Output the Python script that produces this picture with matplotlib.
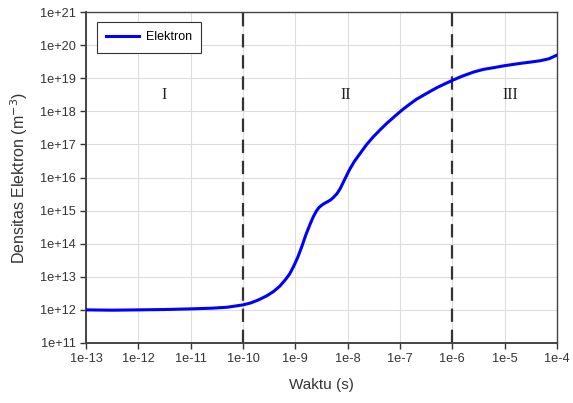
import matplotlib
matplotlib.use("Agg")
import matplotlib.pyplot as plt
import numpy as np
from matplotlib.ticker import FixedLocator, NullLocator

# data: log10(time [s]) and log10(electron density [m^-3])
log_t = [-13.0, -12.5, -12.0, -11.5, -11.0, -10.6, -10.3, -10.0, -9.85, -9.705, -9.55, -9.42,
         -9.3, -9.195, -9.11, -9.036, -8.95, -8.876, -8.8, -8.72, -8.654, -8.60, -8.55,
         -8.49, -8.43, -8.37, -8.32, -8.27, -8.20, -8.14, -8.06, -7.97, -7.87, -7.76,
         -7.64, -7.51, -7.38, -7.25, -7.10, -6.96, -6.82, -6.68, -6.46, -6.29, -6.13,
         -5.98, -5.8, -5.59, -5.4, -5.21, -5.0, -4.70, -4.5, -4.32, -4.15, -4.0]
log_n = [12.0, 11.99, 12.0, 12.01, 12.03, 12.05, 12.08, 12.15, 12.21, 12.30, 12.42, 12.55,
         12.71, 12.90, 13.08, 13.30, 13.60, 13.91, 14.26, 14.58, 14.82, 14.98, 15.09,
         15.17, 15.23, 15.28, 15.33, 15.40, 15.52, 15.67, 15.93, 16.22, 16.49, 16.73,
         16.99, 17.23, 17.44, 17.64, 17.85, 18.04, 18.21, 18.37, 18.57, 18.72, 18.84,
         18.95, 19.07, 19.19, 19.27, 19.32, 19.38, 19.45, 19.49, 19.53, 19.59, 19.70]

x_ticks = [1e-13, 1e-12, 1e-11, 1e-10, 1e-9, 1e-8, 1e-7, 1e-6, 1e-5, 1e-4]
x_tick_labels = ["1e-13", "1e-12", "1e-11", "1e-10", "1e-9", "1e-8", "1e-7", "1e-6", "1e-5", "1e-4"]
y_ticks = [1e11, 1e12, 1e13, 1e14, 1e15, 1e16, 1e17, 1e18, 1e19, 1e20, 1e21]
y_tick_labels = ["1e+11", "1e+12", "1e+13", "1e+14", "1e+15", "1e+16", "1e+17", "1e+18", "1e+19", "1e+20", "1e+21"]
phase_bounds = [1e-10, 1e-6]
phase_labels = ["I", "II", "III"]
phase_label_x = [10**-11.5, 10**-8.03, 10**-4.9]
phase_label_y = 10**18.5

plt.rcParams['font.family'] = ['Liberation Sans', 'DejaVu Sans']

fig = plt.figure(figsize=(5.73, 4.03), dpi=100)
ax = fig.add_axes([0.150, 0.149, 0.822, 0.821])

t = 10 ** np.array(log_t)
n = 10 ** np.array(log_n)
ax.plot(t, n, color='#0000ff', lw=2.2, label='Elektron', zorder=3,
        solid_joinstyle='round')

for b in phase_bounds:
    ax.axvline(b, color='#333333', lw=1.6, ls=(0, (6, 3.5)), zorder=2)

for lab, xx in zip(phase_labels, phase_label_x):
    ax.text(xx, phase_label_y, lab, family=['Liberation Serif', 'DejaVu Serif'],
            fontsize=11.5, ha='center', va='center', color='#222222')

ax.set_xscale('log')
ax.set_yscale('log')
ax.set_xlim(1e-13, 1e-4)
ax.set_ylim(1e11, 1e21)
ax.xaxis.set_major_locator(FixedLocator(x_ticks))
ax.yaxis.set_major_locator(FixedLocator(y_ticks))
ax.xaxis.set_minor_locator(NullLocator())
ax.yaxis.set_minor_locator(NullLocator())
ax.set_xticklabels(x_tick_labels)
ax.set_yticklabels(y_tick_labels)
ax.tick_params(axis='both', labelsize=9.2, colors='#333333', length=4, width=1, direction='out')
ax.grid(True, color='#dddddd', lw=0.8, zorder=0)
ax.set_axisbelow(True)
for s in ax.spines.values():
    s.set_color('#444444')
    s.set_linewidth(1.0)
ax.spines['left'].set_linewidth(1.4)
ax.spines['bottom'].set_linewidth(1.4)

ax.set_xlabel('Waktu (s)', fontsize=11, color='#333333', labelpad=9)
ax.set_ylabel('Densitas Elektron (m$^{-3}$)', fontsize=11.5, color='#333333', labelpad=7)

leg = ax.legend(loc='upper left', bbox_to_anchor=(0.023, 0.970), fontsize=9,
                fancybox=False, edgecolor='#333333', framealpha=1,
                borderpad=0.75, handlelength=2.6, handletextpad=0.55,
                borderaxespad=0)
leg.get_frame().set_linewidth(0.8)

fig.savefig('out.png', dpi=100)
